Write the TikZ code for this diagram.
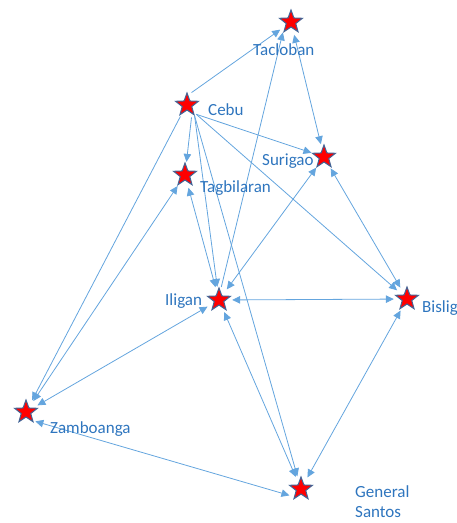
\documentclass[tikz,border=0pt]{standalone}
\usepackage{fontspec}
\setmainfont{Carlito}
\usetikzlibrary{arrows.meta,shapes.geometric}
\definecolor{linec}{RGB}{100,165,222}
\definecolor{labc}{RGB}{46,117,190}
\definecolor{starline}{RGB}{65,100,150}
\tikzset{
  hd/.tip={Triangle[length=8pt,width=7.5pt]},
  city/.style={circle,minimum size=26pt,inner sep=0pt},
  starnode/.style={star,star points=5,star point ratio=2.4,minimum size=24pt,inner sep=0pt,fill=red,draw=starline,line width=1pt},
  conn/.style={draw=linec,line width=0.8pt,-hd},
  conn2/.style={draw=linec,line width=0.8pt,hd-hd},
  lab/.style={anchor=base west,text=labc,font=\fontsize{17}{20}\selectfont,inner sep=0pt,align=left}
}
\begin{document}
\begin{tikzpicture}[x=1pt,y=-1pt]
\useasboundingbox (0,0) rectangle (457,523);
% cities
\node[city] (tac) at (291,22) {};
\node[city] (ceb) at (187,105) {};
\node[city] (sur) at (324,157) {};
\node[city] (tag) at (185,175) {};
\node[city] (ili) at (219,300) {};
\node[city] (bis) at (407,299) {};
\node[city] (zam) at (26,412) {};
\node[city] (gs) at (301,489) {};
% connectors
\draw[conn] (ceb.70) -- (tac);
\draw[conn] (ceb.240) -- (zam);
\draw[conn] (ceb.-70) -- (tag);
\draw[conn] (ceb.-45) -- (sur);
\draw[conn] (ceb.-55) -- (ili);
\draw[conn] (ceb.-45) -- (bis);
\draw[conn] (ceb.-55) -- (gs);
\draw[conn2] (tac) -- (sur);
\draw[conn] (ili.80) -- (tac.232);
\draw[conn2] (tag) -- (ili);
\draw[conn2] (zam) -- (tag);
\draw[conn2] (zam) -- (ili);
\draw[conn2] (zam.-45) -- (gs.209);
\draw[conn2] (ili) -- (sur);
\draw[conn2] (ili) -- (bis);
\draw[conn2] (ili) -- (gs);
\draw[conn2] (sur) -- (bis);
\draw[conn2] (bis) -- (gs);
% stars
\node[starnode] (tac-s) at (tac) {};
\node[starnode] (ceb-s) at (ceb) {};
\node[starnode] (sur-s) at (sur) {};
\node[starnode] (tag-s) at (tag) {};
\node[starnode] (ili-s) at (ili) {};
\node[starnode] (bis-s) at (bis) {};
\node[starnode] (zam-s) at (zam) {};
\node[starnode] (gs-s) at (gs) {};
% labels
\node[lab] (tac-l) at (253,55) {Tacloban};
\node[lab] (ceb-l) at (208,115) {Cebu};
\node[lab] (sur-l) at (262,165) {Surigao};
\node[lab] (tag-l) at (200,192) {Tagbilaran};
\node[lab] (ili-l) at (165,305) {Iligan};
\node[lab] (bis-l) at (422,312) {Bislig};
\node[lab] (zam-l) at (50,433) {Zamboanga};
\node[lab] (gs-l1) at (355,497) {General};
\node[lab] (gs-l2) at (355,517) {Santos};
\end{tikzpicture}
\end{document}
